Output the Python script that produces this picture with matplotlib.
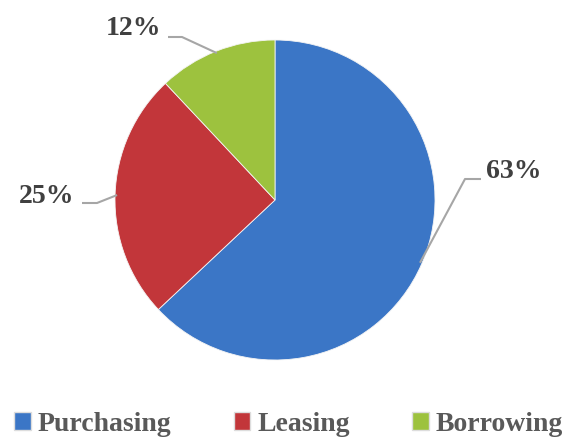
import numpy as np
import matplotlib
matplotlib.use("Agg")
import matplotlib.pyplot as plt
from matplotlib.patches import Patch

# data
categories = ["Purchasing", "Leasing", "Borrowing"]
shares = [63, 25, 12]
colors = ["#3b76c6", "#c2363a", "#9dc23e"]

# label layout (pixel coords, y measured from bottom): elbow, line end, text anchor
label_layout = [
    {"elbow": (465, 261), "end": (481, 261), "text": (486, 269), "ha": "left"},
    {"elbow": (97, 237), "end": (82, 237), "text": (74, 244), "ha": "right"},
    {"elbow": (182, 403), "end": (168, 403), "text": (161, 412), "ha": "right"},
]

W, H = 577, 440
cx, cy, r = 275, 240, 160
text_color = "#404040"
font = "Liberation Serif"
fsize = 20

fig = plt.figure(figsize=(W / 100, H / 100), dpi=100)
ax = fig.add_axes([0, 0, 1, 1])

wedges, _ = ax.pie(shares, colors=colors, startangle=90, counterclock=False,
                   center=(cx, cy), radius=r, frame=True,
                   wedgeprops=dict(edgecolor="#f4f4f4", linewidth=0.6))
ax.set_xlim(0, W)
ax.set_ylim(0, H)
ax.set_aspect("equal")
ax.axis("off")

total = sum(shares)
start = 90.0
for val, lay in zip(shares, label_layout):
    span = 360.0 * val / total
    mid = np.deg2rad(start - span / 2)
    start -= span
    ax_pt = (cx + (r - 2) * np.cos(mid), cy + (r - 2) * np.sin(mid))
    xs = [ax_pt[0], lay["elbow"][0], lay["end"][0]]
    ys = [ax_pt[1], lay["elbow"][1], lay["end"][1]]
    ax.plot(xs, ys, color="#a6a6a6", lw=1.5, solid_capstyle="butt")
    ax.text(lay["text"][0], lay["text"][1], f"{val}%", ha=lay["ha"], va="center",
            fontsize=fsize, fontweight="bold", family=font, color=text_color)

handles = [Patch(facecolor=c, edgecolor="#dddddd", label=n) for c, n in zip(colors, categories)]
leg = fig.legend(handles=handles, loc="center", bbox_to_anchor=(0.5, 0.035), ncol=3,
                 frameon=False, handlelength=0.6, handleheight=0.6, handletextpad=0.25,
                 columnspacing=2.25, prop=dict(family=font, weight="bold", size=fsize))
for t in leg.get_texts():
    t.set_color("#595959")

fig.savefig("out.png", dpi=100)
